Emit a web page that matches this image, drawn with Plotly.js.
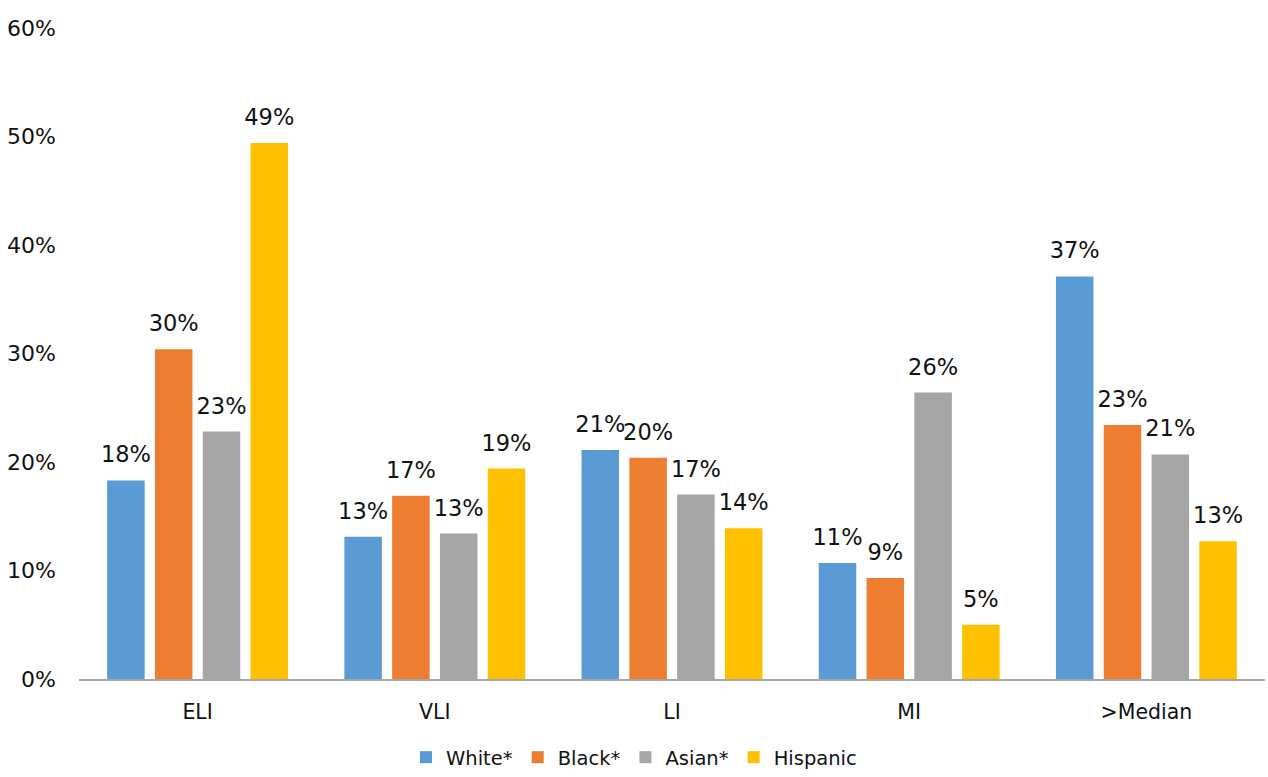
<!DOCTYPE html>
<html>
<head>
<meta charset="utf-8">
<script src="https://cdn.plot.ly/plotly-3.0.1.min.js"></script>
<style>html,body{margin:0;padding:0;background:#fff;}#chart{width:1268px;height:777px;}</style>
</head>
<body>
<div id="chart"></div>
<script>
const categories = ["ELI", "VLI", "LI", "MI", ">Median"];
const white = [0.183, 0.131, 0.211, 0.107, 0.371];
const black = [0.304, 0.169, 0.204, 0.093, 0.234];
const asian = [0.228, 0.134, 0.170, 0.264, 0.207];
const hispanic = [0.494, 0.194, 0.139, 0.050, 0.127];
const seriesNames = ["White*", "Black*", "Asian*", "Hispanic"];
const seriesColors = ["#5B9BD5", "#ED7D31", "#A5A5A5", "#FFC000"];
const seriesValues = [white, black, asian, hispanic];
const yTickVals = [0, 0.1, 0.2, 0.3, 0.4, 0.5, 0.6];

const FONT = "DejaVu Sans, sans-serif";

const traces = seriesValues.map((vals, i) => ({
  type: "bar",
  name: seriesNames[i],
  x: categories,
  y: vals,
  marker: {color: seriesColors[i]},
  texttemplate: '<span style="font-size:22.5px">%{y:.0%}</span><br><span style="color:rgba(0,0,0,0)">.</span>',
  textposition: "outside",
  textfont: {family: FONT, size: 10, color: "#111"},
  constraintext: "none",
  cliponaxis: false,
  hoverinfo: "x+y+name"
}));

const layout = {
  width: 1268,
  height: 777,
  margin: {l: 79, r: 3, t: 28, b: 98},
  paper_bgcolor: "#fff",
  plot_bgcolor: "#fff",
  barmode: "group",
  bargap: 0.194,
  bargroupgap: 0.215,
  font: {family: FONT, size: 21, color: "#111"},
  xaxis: {
    type: "category",
    showline: true,
    linecolor: "#A6A6A6",
    linewidth: 2,
    ticks: "",
    showgrid: false,
    zeroline: false,
    tickfont: {family: FONT, size: 20.5, color: "#111"},
    ticklabelstandoff: 13
  },
  yaxis: {
    range: [0, 0.6],
    tickvals: yTickVals,
    tickformat: ".0%",
    showgrid: false,
    zeroline: false,
    showline: false,
    ticks: "",
    tickfont: {family: FONT, size: 22, color: "#111"},
    ticklabelstandoff: 22
  },
  showlegend: true,
  legend: {
    orientation: "h",
    x: 0.5,
    xanchor: "center",
    xref: "container",
    yref: "container",
    y: -0.007,
    yanchor: "bottom",
    font: {family: FONT, size: 19.5, color: "#111"},
    itemwidth: 30,
    traceorder: "normal"
  }
};

Plotly.newPlot("chart", traces, layout, {staticPlot: true, displayModeBar: false});
</script>
</body>
</html>
